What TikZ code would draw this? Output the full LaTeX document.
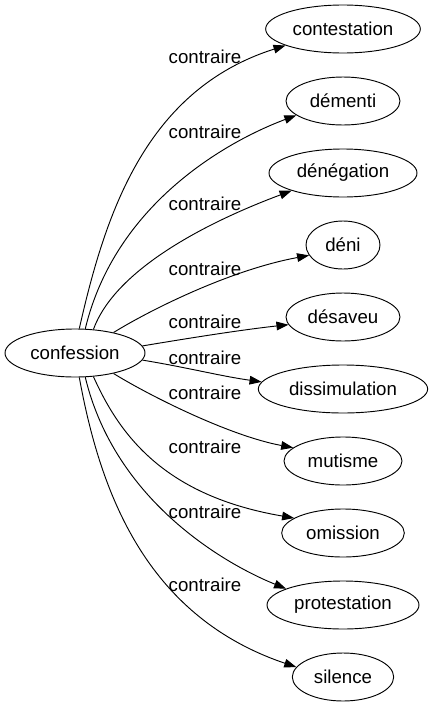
\documentclass[tikz,border=0pt]{standalone}
\usepackage{fontspec}
\setmainfont{Liberation Sans}
\usetikzlibrary{arrows.meta,shapes.geometric}
\begin{document}
\begin{tikzpicture}[x=0.75pt,y=-0.75pt,line width=0.7pt,
    every node/.style={font=\fontsize{14}{16}\selectfont},
    word/.style={draw,ellipse,minimum height=36pt,inner sep=0pt},
    rel/.style={inner sep=0pt}]
      \useasboundingbox (0,0) rectangle (433,707);
      \draw
        (75,353) node[word,minimum width=105pt] (confession){confession}
        (343,29) node[word,minimum width=116pt] (contestation){contestation}
        (343,101) node[word,minimum width=85.5pt] (dementi){démenti}
        (343,173) node[word,minimum width=111pt] (denegation){dénégation}
        (343,245) node[word,minimum width=55.5pt] (deni){déni}
        (343,317) node[word,minimum width=85.5pt] (desaveu){désaveu}
        (343,389) node[word,minimum width=127pt] (dissimulation){dissimulation}
        (343,461) node[word,minimum width=88.5pt] (mutisme){mutisme}
        (343,533) node[word,minimum width=92pt] (omission){omission}
        (343,605) node[word,minimum width=114pt] (protestation){protestation}
        (343,677) node[word,minimum width=76pt] (silence){silence};
      \draw
        (205,57) node[rel] (r1){contraire}
        (205,132) node[rel] (r2){contraire}
        (205,204) node[rel] (r3){contraire}
        (205,269) node[rel] (r4){contraire}
        (205,322) node[rel] (r5){contraire}
        (205,358) node[rel] (r6){contraire}
        (205,393) node[rel] (r7){contraire}
        (205,447) node[rel] (r8){contraire}
        (205,512) node[rel] (r9){contraire}
        (205,585) node[rel] (r10){contraire};
      \begin{scope}[-{Triangle[length=9pt,width=6.5pt]}]
        \draw (confession.80) .. controls (105,215) and (145,90) .. (contestation.196);
        \draw (confession.67) .. controls (115,205) and (225,142) .. (dementi.197);
        \draw (confession.52) .. controls (115,270) and (205,223) .. (denegation.199);
        \draw (confession.28) .. controls (150,310) and (230,270) .. (deni.197);
        \draw (confession.6) .. controls (190,338) and (240,330) .. (desaveu.188);
        \draw (confession.354) .. controls (190,368) and (220,376) .. (dissimulation.175);
        \draw (confession.332) .. controls (150,396) and (230,436) .. (mutisme.165);
        \draw (confession.308) .. controls (120,436) and (165,496) .. (omission.163);
        \draw (confession.293) .. controls (115,501) and (225,564) .. (protestation.164);
        \draw (confession.280) .. controls (100,491) and (145,616) .. (silence.168);
      \end{scope}
    \end{tikzpicture}
\end{document}
